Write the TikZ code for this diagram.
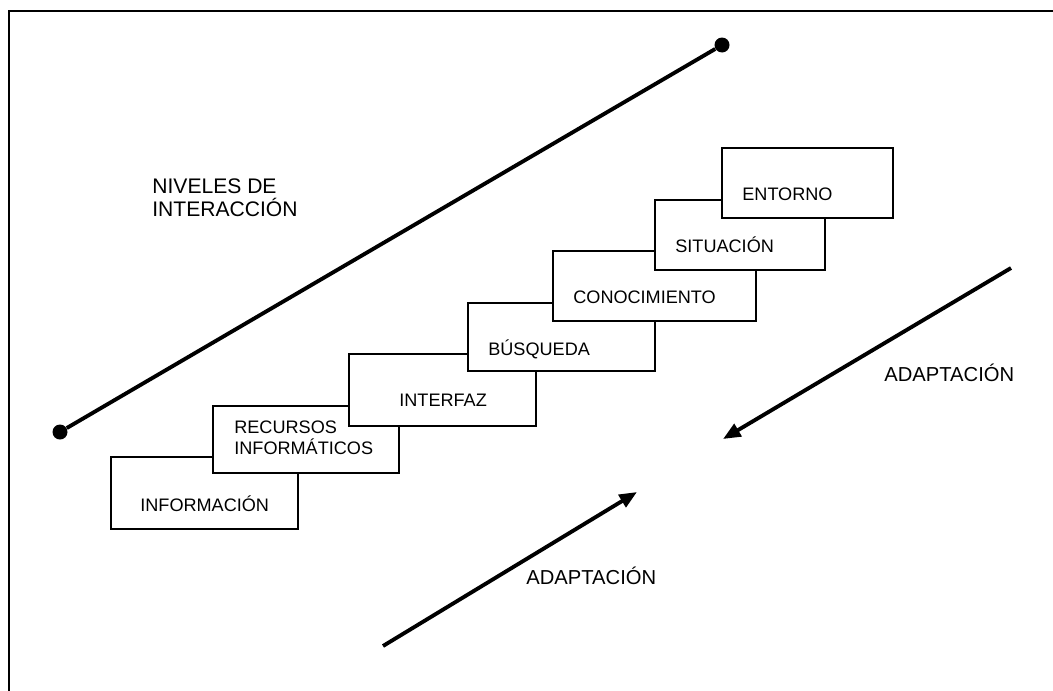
\documentclass[tikz,border=0pt]{standalone}
\usepackage{fontspec}
\setmainfont{Liberation Sans}
\usetikzlibrary{arrows.meta, fit}

\begin{document}
\begin{tikzpicture}[x=0.02cm, y=-0.02cm, stepbox/.style={draw, fill=white, line width=1.1pt, inner sep=0pt}, steptext/.style={anchor=base west, inner sep=0pt, align=left, font=\fontsize{10.3}{11.4}\selectfont}, bigtext/.style={anchor=base west, inner sep=0pt, align=left, font=\fontsize{12}{13}\selectfont}, dot/.style={circle, fill, inner sep=0pt, minimum size=0.3cm}, niveline/.style={line width=2.2pt}, adaparrow/.style={-{Triangle[length=10pt, width=8pt]}, line width=2.2pt}]
\useasboundingbox (0,0) rectangle (1053,690);
\clip (0,0) rectangle (1053,690);
\draw[line width=1.1pt] (9,700) |- (1060,11);
% the levels line
\node[dot] (nivlo) at (60,432) {};
\node[dot] (nivhi) at (722,45) {};
\draw[niveline] (nivlo) -- (nivhi);
\node[bigtext] (niveles) at (152,216) {NIVELES DE\\INTERACCIÓN};
% the steps, each one drawn over the one below
\node[stepbox, fit={(111,457) (298,529)}] (info) {};
\node[steptext] (infotxt) at (140,511) {INFORMACIÓN};
\node[stepbox, fit={(213,406) (399,473)}] (recu) {};
\node[steptext] (recutxt) at (234,454) {RECURSOS\\INFORMÁTICOS};
\node[stepbox, fit={(349,354) (536,426)}] (inter) {};
\node[steptext] (intertxt) at (399,406) {INTERFAZ};
\node[stepbox, fit={(468,303) (655,371)}] (busq) {};
\node[steptext] (busqtxt) at (488,355) {BÚSQUEDA};
\node[stepbox, fit={(553,251) (756,321)}] (cono) {};
\node[steptext] (conotxt) at (573,303) {CONOCIMIENTO};
\node[stepbox, fit={(655,200) (825,270)}] (situ) {};
\node[steptext] (situtxt) at (675,252) {SITUACIÓN};
\node[stepbox, fit={(722,148) (893,218)}] (ento) {};
\node[steptext] (entotxt) at (742,200) {ENTORNO};
% adaptation arrows
\coordinate (adapa) at (1011,268);
\coordinate (adapb) at (723,439);
\coordinate (adapc) at (383,646);
\coordinate (adapd) at (637,492);
\draw[adaparrow] (adapa) -- (adapb);
\draw[adaparrow] (adapc) -- (adapd);
\node[steptext, font=\fontsize{11.5}{13}\selectfont] (adaptop) at (884,381) {ADAPTACIÓN};
\node[steptext, font=\fontsize{11.5}{13}\selectfont] (adapbot) at (526,584) {ADAPTACIÓN};
\end{tikzpicture}
\end{document}
